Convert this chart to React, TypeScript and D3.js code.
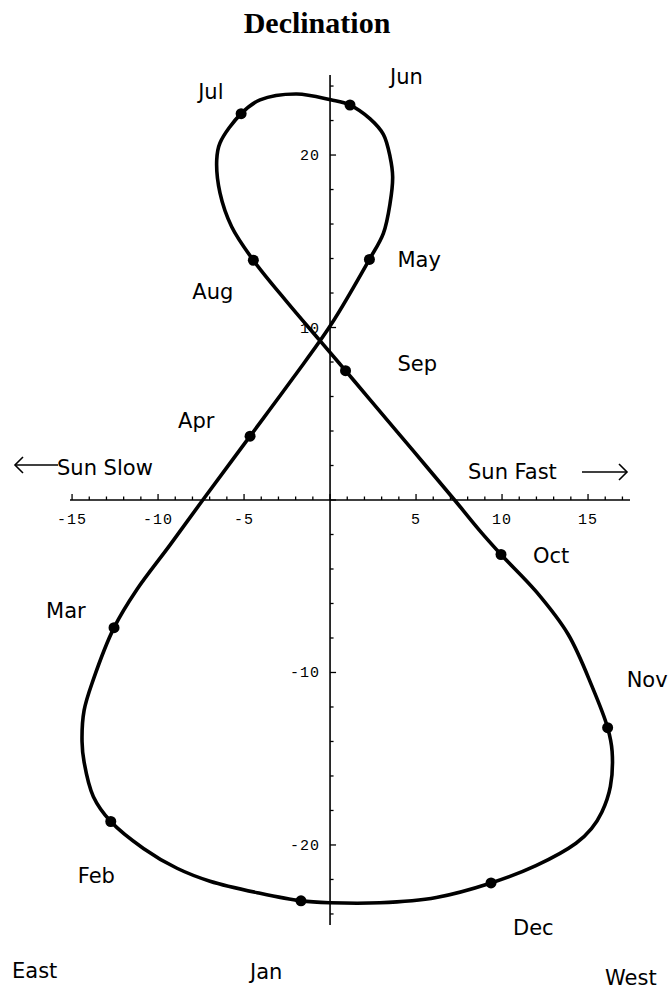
import React from "react";
import * as d3 from "d3";

const W = 669;
const H = 989;

// Analemma traced through the year, starting at the January marker:
// equation of time (minutes, sundial minus clock) and solar declination (degrees).
const curveEot = [
  -1.69, -4.07, -6.98, -8.9, -10.85, -12.75, -13.76, -14.3, -14.42, -14.3, -13.76,
  -12.56, -11.24, -9.3, -7.4, -4.65, -2.13, 0.04, 2.29, 3.1, 3.49, 3.64, 3.49, 3.1,
  2.33, 1.16, 0.04, -1.94, -4.07, -5.17, -6.4, -6.59, -6.4, -5.72, -4.46, -2.52,
  -0.6, 0.9, 2.32, 4.83, 7.24, 8.69, 9.94, 12.0, 13.85, 15.25, 16.14, 16.4, 16.3,
  15.8, 15.2, 14.3, 11.97, 9.36, 6.18, 2.9, 0,
];
const curveDecl = [
  -23.24, -22.8, -22.1, -21.35, -20.2, -18.64, -17.2, -15.2, -14.0, -12.2, -10.4,
  -7.4, -5.2, -2.6, 0, 3.7, 7.1, 10.14, 13.95, 15.46, 17.2, 18.74, 19.9, 21.2,
  22.1, 22.9, 23.2, 23.54, 23.2, 22.4, 20.7, 19.7, 17.8, 15.84, 13.9, 11.5,
  9.25, 7.5, 5.82, 2.86, 0, -1.76, -3.16, -5.33, -7.8, -10.85, -13.2, -14.57, -16.6,
  -18.1, -19.05, -19.9, -21.2, -22.2, -23.04, -23.35, -23.35,
];

// Monthly markers
const months = ["Jan", "Feb", "Mar", "Apr", "May", "Jun", "Jul", "Aug", "Sep", "Oct", "Nov", "Dec"];
const monthEot = [-1.69, -12.75, -12.56, -4.65, 2.29, 1.16, -5.17, -4.46, 0.9, 9.94, 16.14, 9.36];
const monthDecl = [-23.24, -18.64, -7.4, 3.7, 13.95, 22.9, 22.4, 13.9, 7.5, -3.16, -13.2, -22.2];

// Axis tick labels and tick positions
const xTickLabels = [-15, -10, -5, 5, 10, 15];
const yTickLabels = [20, 10, -10, -20];
const xMinorTicks = d3.range(-15, 18, 1);
const yMinorTicks = d3.range(-24, 25, 2);

// Label placement relative to each marker (pixels)
const labelOffset: [number, number][] = [
  [-51, 78], [-33, 61], [-68, -10], [-72, -8], [28, 8], [40, -21],
  [-43, -15], [-61, 39], [52, 0], [32, 8], [19, -41], [22, 52],
];

export default function App() {
  const x = d3.scaleLinear().domain([-15.12, 17.44]).range([70, 630]);
  const y = d3.scaleLinear().domain([-24.64, 24.64]).range([925, 75]);

  const pts: [number, number][] = curveEot.map((e, i) => [x(e), y(curveDecl[i])]);
  const line = d3.line().curve(d3.curveCatmullRomClosed.alpha(0.5));
  const path = line(pts) || "";

  const x0 = x(0);
  const y0 = y(0);
  const labelFont = "'DejaVu Sans', Verdana, sans-serif";
  const tickFont = "'Liberation Mono', 'Courier New', monospace";

  return (
    <svg
      width={W}
      height={H}
      style={{ position: "absolute", left: 0, top: 0, background: "#fff" }}
    >
      <rect x={0} y={0} width={W} height={H} fill="#fff" />

      {/* Title */}
      <text
        x={317}
        y={33}
        textAnchor="middle"
        fontFamily="'Liberation Serif', 'Times New Roman', serif"
        fontWeight="bold"
        fontSize={30}
        fill="#000"
      >
        Declination
      </text>

      {/* Horizontal axis */}
      <line x1={x(-15.12)} x2={x(17.44)} y1={y0} y2={y0} stroke="#000" strokeWidth={1.6} />
      {xMinorTicks.map((t) => (
        <line
          key={"xt" + t}
          x1={x(t)}
          x2={x(t)}
          y1={y0}
          y2={y0 - (t % 5 === 0 ? 6 : 3.5)}
          stroke="#000"
          strokeWidth={1.3}
        />
      ))}
      {xTickLabels.map((t) => (
        <text
          key={"xl" + t}
          x={x(t)}
          y={y0 + 24}
          textAnchor="middle"
          fontFamily={tickFont}
          fontSize={15}
          letterSpacing={1}
          fill="#000"
        >
          {t < 0 ? "-" + Math.abs(t) : String(t)}
        </text>
      ))}

      {/* Vertical axis */}
      <line x1={x0} x2={x0} y1={y(24.64)} y2={y(-24.64)} stroke="#000" strokeWidth={1.6} />
      {yMinorTicks.map((t) => (
        <line
          key={"yt" + t}
          x1={x0}
          x2={x0 + (t % 10 === 0 ? 6 : 3.5)}
          y1={y(t)}
          y2={y(t)}
          stroke="#000"
          strokeWidth={1.3}
        />
      ))}
      {yTickLabels.map((t) => (
        <text
          key={"yl" + t}
          x={x0 - 10}
          y={y(t) + 5}
          textAnchor="end"
          fontFamily={tickFont}
          fontSize={15}
          letterSpacing={1}
          fill="#000"
        >
          {t < 0 ? "-" + Math.abs(t) : String(t)}
        </text>
      ))}

      {/* Analemma */}
      <path d={path} fill="none" stroke="#000" strokeWidth={3.6} strokeLinejoin="round" />
      {months.map((m, i) => (
        <circle key={"d" + m} cx={x(monthEot[i])} cy={y(monthDecl[i])} r={5.5} fill="#000" />
      ))}
      {months.map((m, i) => (
        <text
          key={"l" + m}
          x={x(monthEot[i]) + labelOffset[i][0]}
          y={y(monthDecl[i]) + labelOffset[i][1]}
          fontFamily={labelFont}
          fontSize={21}
          fill="#000"
        >
          {m}
        </text>
      ))}

      {/* Direction notes */}
      <g stroke="#000" strokeWidth={1.6} fill="none">
        <line x1={15} x2={58} y1={465} y2={465} />
        <polyline points="23,457 15,465 23,473" />
        <line x1={582} x2={627} y1={472} y2={472} />
        <polyline points="619,464 627,472 619,480" />
      </g>
      <text x={57} y={475} fontFamily={labelFont} fontSize={21} fill="#000">
        Sun Slow
      </text>
      <text x={468} y={479} fontFamily={labelFont} fontSize={21} fill="#000">
        Sun Fast
      </text>
      <text x={12} y={978} fontFamily={labelFont} fontSize={21} fill="#000">
        East
      </text>
      <text x={605} y={985} fontFamily={labelFont} fontSize={21} fill="#000">
        West
      </text>
    </svg>
  );
}
